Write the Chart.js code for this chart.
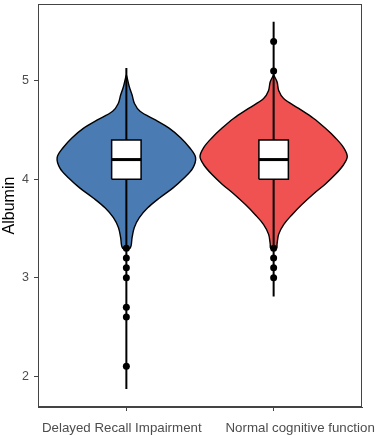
<!DOCTYPE html>
<html><head><meta charset="utf-8">
<script src="https://cdn.jsdelivr.net/npm/chart.js@4"></script>
<style>html,body{margin:0;padding:0;background:#fff}#w{width:380px;height:435px}</style>
</head><body><div id="w"><canvas id="c"></canvas></div>
<script>
const categories = ["Delayed Recall Impairment", "Normal cognitive function"];
const yTicks = [2, 3, 4, 5];
// violin profiles: y value and half-width (density scaled to x units)
const blueY = [5.06, 5.02, 4.94, 4.855, 4.77, 4.69, 4.60, 4.52, 4.42, 4.32, 4.22, 4.11, 4.01, 3.91, 3.81, 3.71, 3.61, 3.51, 3.41, 3.30];
const blueW = [0, 0.007, 0.02, 0.039, 0.055, 0.093, 0.20, 0.29, 0.37, 0.43, 0.47, 0.45, 0.39, 0.315, 0.225, 0.145, 0.088, 0.054, 0.039, 0.025];
const redY = [5.06, 4.99, 4.90, 4.82, 4.72, 4.62, 4.52, 4.42, 4.32, 4.23, 4.15, 4.05, 3.95, 3.85, 3.74, 3.64, 3.54, 3.44, 3.34, 3.30];
const redW = [0, 0.023, 0.035, 0.068, 0.17, 0.27, 0.35, 0.42, 0.476, 0.5, 0.476, 0.42, 0.35, 0.27, 0.19, 0.125, 0.068, 0.034, 0.023, 0.02];
const q1 = [4.0, 4.0];
const median = [4.2, 4.2];
const q3 = [4.4, 4.4];
const rangeLo = [1.87, 2.81];
const rangeHi = [5.13, 5.60];
const outliersBlue = [3.3, 3.2, 3.1, 3.0, 2.7, 2.6, 2.1];
const outliersRed = [5.4, 5.1, 3.3, 3.2, 3.1, 3.0];
const fills = ["#4A7CB3", "#F05252"];

function violin(pos, ys, ws) {
  const pts = [];
  for (let i = 0; i < ys.length; i++) pts.push({x: pos + ws[i], y: ys[i]});
  for (let i = ys.length - 1; i >= 0; i--) pts.push({x: pos - ws[i], y: ys[i]});
  return pts;
}
const boxHalf = 0.1;
const labelShift = [-0.031, 0.18]; // label placement under each category (as in the reference)
const datasets = [];
const profiles = [[blueY, blueW], [redY, redW]];
const outs = [outliersBlue, outliersRed];
categories.forEach((c, i) => {
  const pos = i + 1;
  datasets.push({type: 'line', data: violin(pos, profiles[i][0], profiles[i][1]), showLine: true, fill: 'shape',
    backgroundColor: fills[i], borderColor: '#000', borderWidth: 1.4, pointRadius: 0, tension: 0.35, order: 10});
  datasets.push({type: 'line', data: [{x: pos, y: rangeLo[i]}, {x: pos, y: rangeHi[i]}], showLine: true, fill: false,
    borderColor: '#000', borderWidth: 2, pointRadius: 0, order: 8});
  datasets.push({type: 'line', data: [{x: pos - boxHalf, y: q1[i]}, {x: pos + boxHalf, y: q1[i]}, {x: pos + boxHalf, y: q3[i]}, {x: pos - boxHalf, y: q3[i]}, {x: pos - boxHalf, y: q1[i]}],
    showLine: true, fill: 'shape', backgroundColor: '#fff', borderColor: '#000', borderWidth: 1.5, pointRadius: 0, tension: 0, order: 6});
  datasets.push({type: 'line', data: [{x: pos - boxHalf, y: median[i]}, {x: pos + boxHalf, y: median[i]}], showLine: true, fill: false,
    borderColor: '#000', borderWidth: 3, pointRadius: 0, order: 4});
  datasets.push({type: 'scatter', data: outs[i].map(v => ({x: pos, y: v})), pointRadius: 3.5, pointBackgroundColor: '#000',
    pointBorderColor: '#000', pointBorderWidth: 0, order: 2});
});

const frame = {id: 'frame', afterDraw(ch) {
  const a = ch.chartArea, g = ch.ctx;
  g.save(); g.strokeStyle = '#444'; g.lineWidth = 1;
  g.strokeRect(Math.round(a.left) + 0.5, Math.round(a.top) + 0.5, Math.round(a.right - a.left) - 1, Math.round(a.bottom - a.top) - 1);
  g.restore();
}};
const font = {family: 'Liberation Sans, Arial', size: 13.3};
const noPad = s => { s.paddingLeft = 0; s.paddingRight = 0; s.paddingTop = 0; s.paddingBottom = 0; };

new Chart(document.getElementById('c'), {
  type: 'scatter',
  data: {datasets},
  options: {
    responsive: true, maintainAspectRatio: false, animation: false,
    layout: {padding: {top: 2, right: 18, left: 0, bottom: 0}},
    plugins: {legend: {display: false}, tooltip: {enabled: false}},
    scales: {
      x: {type: 'linear', min: 0.4, max: 2.6, position: 'bottom',
        afterBuildTicks: s => { s.ticks = categories.map((c, i) => ({value: i + 1})); },
        afterFit: s => { s.height = 4; noPad(s); },
        ticks: {display: false},
        grid: {display: true, drawOnChartArea: false, drawTicks: true, tickLength: 4, color: '#444', lineWidth: 1},
        border: {display: true, color: '#444', width: 1}},
      xl: {type: 'linear', min: 0.4, max: 2.6, position: 'bottom',
        afterBuildTicks: s => { s.ticks = categories.map((c, i) => ({value: i + 1 + labelShift[i]})); },
        afterFit: s => { s.height = 24; noPad(s); },
        ticks: {autoSkip: false, maxRotation: 0, padding: 9, color: '#4D4D4D', font,
          callback: (v, idx) => categories[idx]},
        grid: {display: false, drawTicks: false},
        border: {display: false}},
      y: {type: 'linear', min: 1.687, max: 5.78,
        afterBuildTicks: s => { s.ticks = yTicks.map(v => ({value: v})); },
        afterFit: s => { s.width = 38; noPad(s); },
        ticks: {padding: 5, color: '#4D4D4D', font: {family: 'Liberation Sans, Arial', size: 12.5}},
        title: {display: true, text: 'Albumin', color: '#000', font: {family: 'Liberation Sans, Arial', size: 16}, padding: 0},
        grid: {display: true, drawOnChartArea: false, drawTicks: true, tickLength: 4, color: '#444', lineWidth: 1},
        border: {display: true, color: '#444', width: 1}}
    }
  },
  plugins: [frame]
});
</script></body></html>
